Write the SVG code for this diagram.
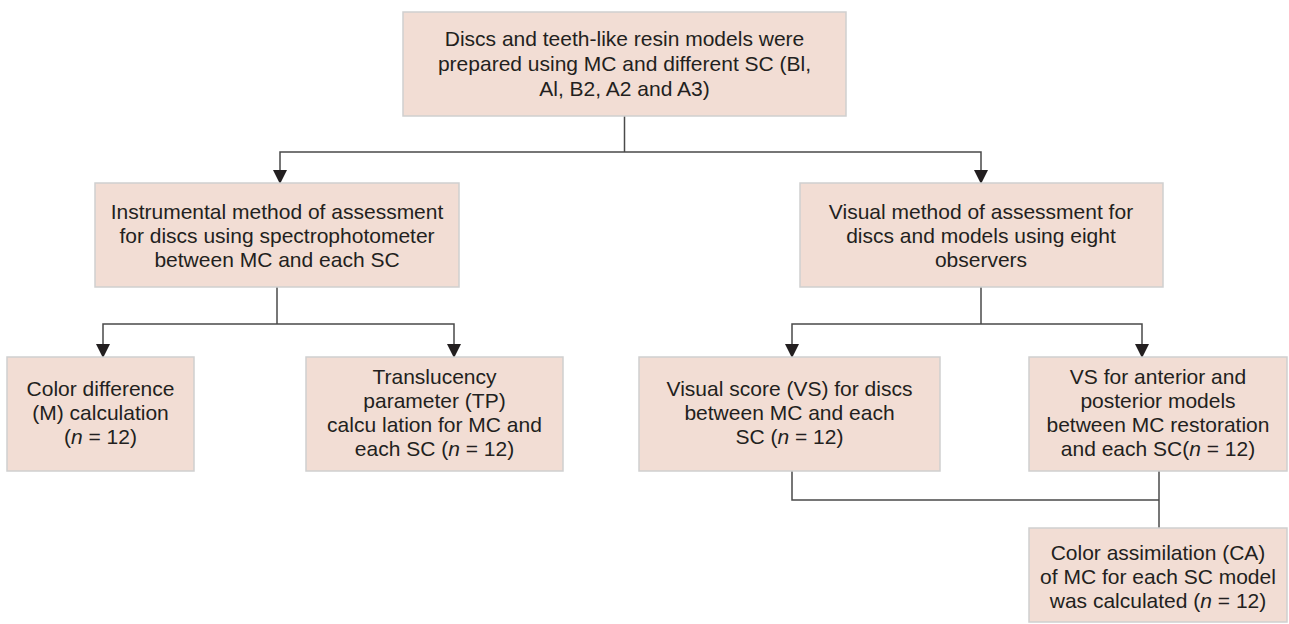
<svg xmlns="http://www.w3.org/2000/svg" width="1289" height="624" viewBox="0 0 1289 624">
<style>
.box{fill:#f2ddd4;stroke:#cfcfcf;stroke-width:1.5}
.t{font-family:"Liberation Sans",Arial,sans-serif;font-size:21px;fill:#231f20;text-anchor:middle}
.i{font-style:italic}
.c{fill:none;stroke:#4a4a4a;stroke-width:1.5}
</style>
<defs>
<marker id="ah" markerUnits="userSpaceOnUse" markerWidth="14" markerHeight="14" viewBox="0 0 14 14" refX="7" refY="14" orient="auto-start-reverse">
<path d="M0,0 L14,0 L7,14 Z" fill="#231f20" transform="rotate(0)"/>
</marker>
</defs>
<rect width="1289" height="624" fill="#fff"/>
<g id="connectors">
<path class="c" d="M624.5,116 V152"/>
<path class="c" d="M280,183 V152 H981 V183"/>
<path class="c" d="M277,287 V324"/>
<path class="c" d="M103,357 V324 H454 V357"/>
<path class="c" d="M981,287 V324"/>
<path class="c" d="M792,357 V324 H1142 V357"/>
<path class="c" d="M792,471 V500 H1159"/>
<path class="c" d="M1159,471 V528"/>
<g fill="#231f20">
<polygon points="273,170 287,170 280,184"/>
<polygon points="974,170 988,170 981,184"/>
<polygon points="96,344 110,344 103,358"/>
<polygon points="447,344 461,344 454,358"/>
<polygon points="785,344 799,344 792,358"/>
<polygon points="1135,344 1149,344 1142,358"/>
</g>
</g>
<g id="n1">
<rect class="box" x="403" y="12" width="443" height="104"/>
<text class="t" x="624.5" y="46">Discs and teeth-like resin models were</text>
<text class="t" x="624.5" y="71">prepared using MC and different SC (Bl,</text>
<text class="t" x="624.5" y="96">Al, B2, A2 and A3)</text>
</g>
<g id="n2">
<rect class="box" x="95" y="183" width="364" height="104"/>
<text class="t" x="277" y="219">Instrumental method of assessment</text>
<text class="t" x="277" y="243">for discs using spectrophotometer</text>
<text class="t" x="277" y="267">between MC and each SC</text>
</g>
<g id="n3">
<rect class="box" x="800" y="183" width="363" height="104"/>
<text class="t" x="981" y="219">Visual method of assessment for</text>
<text class="t" x="981" y="243">discs and models using eight</text>
<text class="t" x="981" y="267">observers</text>
</g>
<g id="n4">
<rect class="box" x="7" y="357" width="187" height="114"/>
<text class="t" x="100.5" y="396">Color difference</text>
<text class="t" x="100.5" y="420">(M) calculation</text>
<text class="t" x="100.5" y="444">(<tspan class="i">n</tspan> = 12)</text>
</g>
<g id="n5">
<rect class="box" x="306" y="357" width="257" height="114"/>
<text class="t" x="434.5" y="384">Translucency</text>
<text class="t" x="434.5" y="408">parameter (TP)</text>
<text class="t" x="434.5" y="432">calcu lation for MC and</text>
<text class="t" x="434.5" y="456">each SC (<tspan class="i">n</tspan> = 12)</text>
</g>
<g id="n6">
<rect class="box" x="639" y="357" width="301" height="114"/>
<text class="t" x="789.5" y="396">Visual score (VS) for discs</text>
<text class="t" x="789.5" y="420">between MC and each</text>
<text class="t" x="789.5" y="444">SC (<tspan class="i">n</tspan> = 12)</text>
</g>
<g id="n7">
<rect class="box" x="1029" y="357" width="258" height="114"/>
<text class="t" x="1158" y="384">VS for anterior and</text>
<text class="t" x="1158" y="408">posterior models</text>
<text class="t" x="1158" y="432">between MC restoration</text>
<text class="t" x="1158" y="456">and each SC(<tspan class="i">n</tspan> = 12)</text>
</g>
<g id="n8">
<rect class="box" x="1029" y="528" width="258" height="94"/>
<text class="t" x="1158" y="560">Color assimilation (CA)</text>
<text class="t" x="1158" y="584">of MC for each SC model</text>
<text class="t" x="1158" y="608">was calculated (<tspan class="i">n</tspan> = 12)</text>
</g>
</svg>
